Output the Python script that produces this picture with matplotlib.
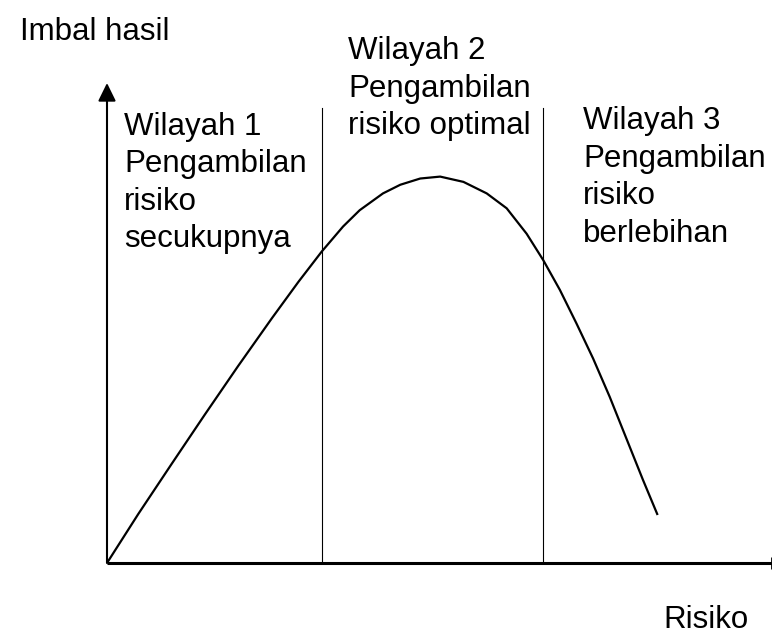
import matplotlib
matplotlib.use("Agg")
import matplotlib.pyplot as plt

plt.rcParams['font.family'] = ['Liberation Sans', 'DejaVu Sans']

# kurva imbal hasil vs risiko (skala 0-100)
risiko = [0, 4.7, 9.7, 14.7, 19.7, 24.8, 28.8, 32.3, 35.5, 38.0, 41.5,
          44.1, 47.1, 50.1, 53.6, 57.1, 60.1, 63.1, 65.6, 68.1, 70.6,
          73.1, 75.6, 78.2, 80.6, 82.8]
imbal = [0, 10.2, 20.6, 30.9, 41.0, 51.0, 58.6, 64.9, 70.1, 73.5, 77.0,
         78.8, 80.1, 80.5, 79.4, 77.0, 73.9, 68.6, 63.1, 56.9, 49.9,
         42.6, 34.6, 25.6, 17.3, 10.0]

batas_wilayah = [32.3, 65.6]
tinggi_batas = 94.8

# label wilayah: (x, y baris pertama, teks)
label_wilayah = [
    (2.6, 89.2, ["Wilayah 1", "Pengambilan", "risiko", "secukupnya"]),
    (36.3, 105.0, ["Wilayah 2", "Pengambilan", "risiko optimal"]),
    (71.6, 90.4, ["Wilayah 3", "Pengambilan", "risiko", "berlebihan"]),
]

W, H = 772, 635
fig = plt.figure(figsize=(W / 100, H / 100), dpi=100)
x0, y0, x1, y1 = 107, 563, 772, 83
ax = fig.add_axes([x0 / W, (H - y0) / H, (x1 - x0) / W, (y0 - y1) / H])
ax.set_xlim(0, 100)
ax.set_ylim(0, 100)
ax.axis('off')

fs = 22.5

# sumbu
ax.plot([0, 100], [0, 0], color='black', lw=2.2, marker='|', markevery=[1],
        markersize=9, mew=2, clip_on=False, solid_capstyle='butt')
ax.annotate('', xy=(0, 100), xytext=(0, 0),
            arrowprops=dict(arrowstyle='-|>,head_length=0.55,head_width=0.27',
                            color='black', lw=1.5, mutation_scale=20,
                            shrinkA=0, shrinkB=0))

# garis batas wilayah
for xb in batas_wilayah:
    ax.plot([xb, xb], [0, tinggi_batas], color='black', lw=0.8, clip_on=False)

# kurva
ax.plot(risiko, imbal, color='black', lw=1.6, clip_on=False,
        solid_joinstyle='round', solid_capstyle='butt')

# teks
ax.text(-13.1, 109.0, "Imbal hasil", fontsize=fs, ha='left', va='baseline')
ax.text(83.6, -13.5, "Risiko", fontsize=fs, ha='left', va='baseline')

for lx, ly, baris in label_wilayah:
    for i, t in enumerate(baris):
        ax.annotate(t, xy=(lx, ly), xytext=(0, -27 * i),
                    textcoords='offset points', fontsize=fs,
                    ha='left', va='baseline', annotation_clip=False)

fig.savefig('out.png', dpi=100)
